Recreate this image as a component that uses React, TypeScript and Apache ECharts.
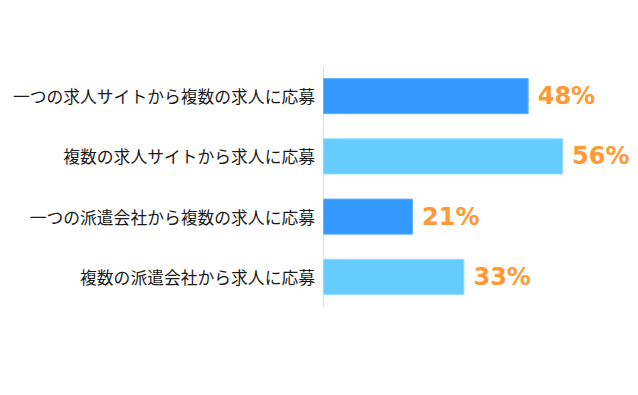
import React, { useEffect, useRef } from "react";
import * as echarts from "echarts";

const categories = [
  "一つの求人サイトから複数の求人に応募",
  "複数の求人サイトから求人に応募",
  "一つの派遣会社から複数の求人に応募",
  "複数の派遣会社から求人に応募",
];
const values = [48, 56, 21, 33];
const barColors = ["#3399FF", "#66CCFF", "#3399FF", "#66CCFF"];
const borderColors = ["#66B3FF", "#8FDAFF", "#66B3FF", "#8FDAFF"];

export default function App() {
  const ref = useRef<HTMLDivElement>(null);
  useEffect(() => {
    if (!ref.current) return;
    const chart = echarts.init(ref.current, undefined, { renderer: "svg" });
    chart.setOption({
      animation: false,
      backgroundColor: "#ffffff",
      grid: { left: 323, right: 15, top: 66, bottom: 88, containLabel: false },
      xAxis: {
        type: "value",
        min: 0,
        max: 70,
        show: false,
      },
      yAxis: {
        type: "category",
        inverse: true,
        data: categories,
        axisLine: { show: true, lineStyle: { color: "#e0e0e0", width: 1 } },
        axisTick: { show: false },
        axisLabel: {
          color: "#1a1a1a",
          fontSize: 16.8,
          fontFamily: "Noto Sans CJK JP",
          margin: 8,
        },
      },
      series: [
        {
          type: "bar",
          barWidth: "60%",
          data: values.map((v, i) => ({
            value: v,
            itemStyle: { color: barColors[i], borderColor: borderColors[i], borderWidth: 1 },
          })),
          label: {
            show: true,
            position: "right",
            distance: 9,
            formatter: "{c}%",
            color: "#FF9933",
            fontSize: 24,
            fontWeight: "bold",
            fontFamily: "DejaVu Sans",
          },
        },
      ],
    });
    return () => chart.dispose();
  }, []);
  return <div ref={ref} style={{ width: 638, height: 395, position: "absolute", left: 0, top: 0 }} />;
}
